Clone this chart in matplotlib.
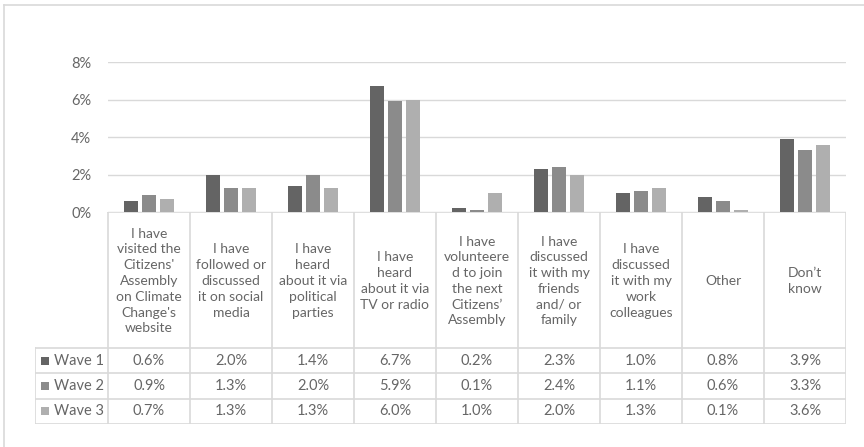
import matplotlib.pyplot as plt
from matplotlib.lines import Line2D

plt.rcParams['font.family'] = ['Lato', 'DejaVu Sans']

categories = [
    "I have\nvisited the\nCitizens'\nAssembly\non Climate\nChange's\nwebsite",
    "I have\nfollowed or\ndiscussed\nit on social\nmedia",
    "I have\nheard\nabout it via\npolitical\nparties",
    "I have\nheard\nabout it via\nTV or radio",
    "I have\nvolunteere\nd to join\nthe next\nCitizens’\nAssembly",
    "I have\ndiscussed\nit with my\nfriends\nand/ or\nfamily",
    "I have\ndiscussed\nit with my\nwork\ncolleagues",
    "Other",
    "Don’t\nknow",
]
series_names = ["Wave 1", "Wave 2", "Wave 3"]
wave1 = [0.6, 2.0, 1.4, 6.7, 0.2, 2.3, 1.0, 0.8, 3.9]
wave2 = [0.9, 1.3, 2.0, 5.9, 0.1, 2.4, 1.1, 0.6, 3.3]
wave3 = [0.7, 1.3, 1.3, 6.0, 1.0, 2.0, 1.3, 0.1, 3.6]
yticks = [0, 2, 4, 6, 8]

colors = ["#646464", "#8b8b8b", "#afafaf"]
grid_c = "#d9d9d9"
text_c = "#666666"
fs = 10

W, H = 864, 447
fig = plt.figure(figsize=(8.64, 4.47), dpi=100)

# outer chart border (top and left visible)
fig.add_artist(Line2D([4 / W, 1], [1 - 5 / H, 1 - 5 / H], color="#d9d9d9", lw=1.2))
fig.add_artist(Line2D([4 / W, 4 / W], [0, 1 - 5 / H], color="#d9d9d9", lw=1.2))

# bar area
x_left, x_right = 108, 846
y_zero, y_top = 212, 62
ax = fig.add_axes([x_left / W, 1 - y_zero / H, (x_right - x_left) / W, (y_zero - y_top) / H])
n = len(categories)
xs = list(range(n))
for k, vals in enumerate([wave1, wave2, wave3]):
    ax.bar([x + (k - 1) * 0.22 for x in xs], vals, width=0.175, color=colors[k],
           label=series_names[k], zorder=3)
ax.set_xlim(-0.5, n - 0.5)
ax.set_ylim(0, 8)
ax.set_yticks(yticks)
ax.set_yticklabels([f"{t}%" for t in yticks], color=text_c, fontsize=fs + 0.5)
ax.yaxis.grid(True, color=grid_c, lw=1.0, zorder=0)
ax.set_xticks([])
ax.tick_params(axis="y", length=0, pad=12)
for s in ax.spines.values():
    s.set_visible(False)

# data table
t_left, t_top, t_bot = 35, 212, 424
head_bot = 348
row_h = (t_bot - head_bot) / 3
tab = fig.add_axes([t_left / W, 1 - t_bot / H, (x_right - t_left) / W, (t_bot - t_top) / H])
col_w = (x_right - x_left) / n
leg_w = (x_left - t_left) / col_w
tab.set_xlim(-0.5 - leg_w, n - 0.5)
tab.set_ylim(t_bot, t_top)
tab.axis("off")

lc = "#d9d9d9"
# vertical lines
for i in range(n + 1):
    tab.plot([i - 0.5, i - 0.5], [t_top, t_bot], color=lc, lw=1.2)
tab.plot([-0.5 - leg_w, -0.5 - leg_w], [head_bot, t_bot], color=lc, lw=1.2)
# horizontal lines
tab.plot([-0.5, n - 0.5], [t_top, t_top], color=lc, lw=1.2)
for r in range(4):
    y = head_bot + r * row_h
    tab.plot([-0.5 - leg_w, n - 0.5], [y, y], color=lc, lw=1.2)

for i, c in enumerate(categories):
    tab.text(i, (t_top + head_bot) / 2 + 1, c, ha="center", va="center", color=text_c,
             fontsize=fs, linespacing=1.38)

for r, vals in enumerate([wave1, wave2, wave3]):
    yc = head_bot + (r + 0.5) * row_h
    tab.scatter([-0.5 - leg_w + 0.128], [yc], marker="s", s=40, color=colors[r],
                clip_on=False, linewidths=0)
    tab.text(-0.5 - leg_w + 0.23, yc, series_names[r], ha="left", va="center",
             color=text_c, fontsize=fs + 0.5)
    for i, v in enumerate(vals):
        tab.text(i, yc, f"{v:.1f}%", ha="center", va="center", color=text_c,
                 fontsize=fs + 0.5)

fig.savefig("out.png", dpi=100)
